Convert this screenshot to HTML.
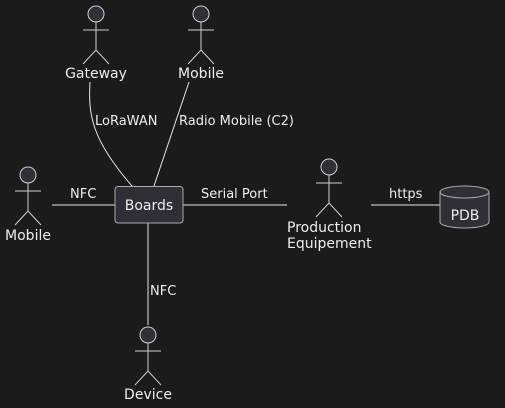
<!DOCTYPE html>
<html><head><style>body{margin:0;background:#1b1b1b}svg{display:block}</style></head><body>
<svg width="505" height="408" xmlns="http://www.w3.org/2000/svg" font-family="'DejaVu Sans','Liberation Sans',sans-serif">
<rect width="505" height="408" fill="#1b1b1b"/>
<defs>
<g id="a" stroke="#cfcfcf" stroke-width="1" fill="none">
<circle cx="0" cy="0" r="8" fill="#2f2f38"/>
<line x1="0" y1="8" x2="0" y2="36"/><line x1="-13" y1="16" x2="13" y2="16"/>
<polyline points="-13,50 0,36 13,50"/>
</g>
</defs>
<g stroke="#e6e6e6" stroke-width="1" fill="none">
<path d="M90,82 C88,115 92,140 132,186"/>
<line x1="189" y1="82" x2="154" y2="186"/>
<line x1="52" y1="205" x2="115" y2="205"/>
<line x1="183" y1="205" x2="287" y2="205"/>
<line x1="371" y1="205" x2="440" y2="205"/>
<line x1="148" y1="223" x2="148" y2="325"/>
</g>
<use href="#a" x="96" y="14"/>
<use href="#a" x="201" y="14"/>
<use href="#a" x="28" y="175"/>
<use href="#a" x="329" y="167"/>
<use href="#a" x="148" y="335"/>
<rect x="115" y="186.5" width="68" height="36.5" rx="3" fill="#2f2f38" stroke="#aaaaaa"/>
<path d="M440,192 L440,222 A24.5,6 0 0 0 489,222 L489,192 A24.5,6 0 0 0 440,192 A24.5,6 0 0 0 489,192" fill="#2f2f38" stroke="#aaaaaa"/>
<g fill="#eeeeee" font-size="14" text-anchor="middle">
<text x="96" y="78">Gateway</text>
<text x="201" y="78">Mobile</text>
<text x="28" y="240">Mobile</text>
<text x="149" y="210">Boards</text>
<text x="465" y="220">PDB</text>
<text x="148" y="399">Device</text>
<text x="287" y="232" text-anchor="start">Production</text>
<text x="287" y="248" text-anchor="start">Equipement</text>
</g>
<g fill="#eeeeee" font-size="13">
<text x="95" y="125">LoRaWAN</text>
<text x="179" y="125">Radio Mobile (C2)</text>
<text x="70" y="198">NFC</text>
<text x="201" y="198">Serial Port</text>
<text x="389" y="198">https</text>
<text x="150" y="295">NFC</text>
</g>
</svg>
</body></html>
